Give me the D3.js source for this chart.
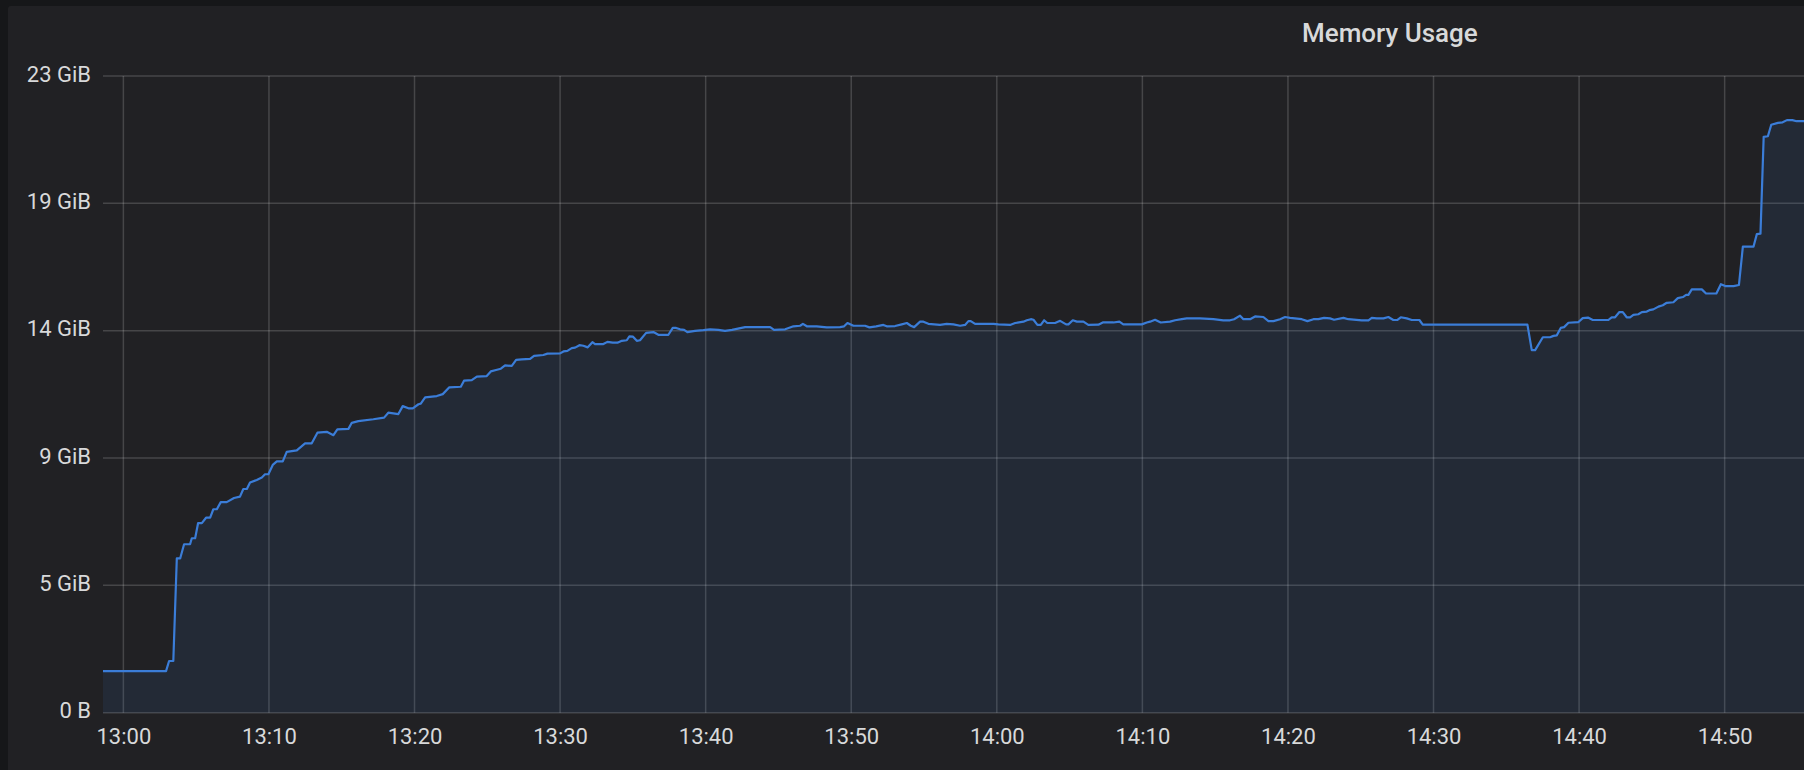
<!DOCTYPE html>
<html>
<head>
<meta charset="utf-8">
<script src="https://cdn.jsdelivr.net/npm/d3@7"></script>
<style>
  html, body { margin: 0; padding: 0; background: #161719; }
  svg { display: block; }
</style>
</head>
<body>
<script>
const TITLE = 'Memory Usage'
const START = new Date(2020, 0, 1, 13, 0, 0)
const DOMAIN_MINUTES = [-1.4, 115.45]
const Y_TICKS_BYTES = [0, 5e9, 10e9, 15e9, 20e9, 25e9]

// minutes after 13:00
const minutes = [
  -1.42, 2.93, 3.14, 3.43, 3.67, 3.90, 4.17, 4.58, 4.70, 4.93,
  5.13, 5.39, 5.68, 5.96, 6.18, 6.42, 6.69, 7.10, 7.60, 8.01,
  8.24, 8.48, 8.70, 9.16, 9.51, 9.73, 9.96, 10.26, 10.54, 10.95,
  11.22, 11.91, 12.48, 12.94, 13.33, 13.97, 14.43, 14.70, 15.46, 15.69,
  16.14, 17.17, 17.91, 18.20, 18.89, 19.19, 19.58, 19.88, 20.27, 20.43,
  20.73, 21.53, 21.94, 22.39, 23.18, 23.40, 23.93, 24.28, 24.96, 25.24,
  25.60, 25.93, 26.22, 26.68, 26.98, 27.37, 27.94, 28.21, 28.85, 29.13,
  30.00, 30.23, 30.50, 30.80, 31.03, 31.33, 31.60, 31.90, 32.22, 32.40,
  32.97, 33.25, 33.62, 33.94, 34.24, 34.58, 34.76, 35.01, 35.27, 35.49,
  35.91, 36.41, 36.75, 37.44, 37.74, 37.97, 38.24, 38.52, 38.74, 39.27,
  39.84, 40.30, 40.87, 41.33, 41.81, 42.71, 44.43, 44.70, 45.46, 46.03,
  46.49, 46.68, 46.95, 47.63, 48.32, 49.23, 49.51, 49.74, 50.15, 50.95,
  51.25, 51.71, 52.21, 52.44, 53.01, 53.47, 53.82, 54.09, 54.32, 54.73,
  54.96, 55.30, 56.10, 56.56, 57.02, 57.48, 57.82, 58.05, 58.21, 58.51,
  59.77, 60.11, 60.91, 61.26, 61.83, 62.06, 62.34, 62.52, 62.79, 63.02,
  63.25, 63.47, 64.00, 64.35, 64.76, 64.92, 65.22, 65.50, 65.95, 66.29,
  66.98, 67.28, 68.01, 68.42, 68.69, 69.96, 70.30, 70.53, 70.87, 71.26,
  71.90, 72.25, 72.71, 73.05, 73.96, 74.88, 75.56, 76.02, 76.30, 76.71,
  76.94, 77.40, 77.74, 78.31, 78.66, 79.00, 79.46, 79.80, 80.15, 80.95,
  81.34, 81.75, 82.09, 82.48, 82.89, 83.17, 83.81, 84.15, 85.07, 85.53,
  85.76, 86.10, 86.56, 86.90, 87.24, 87.50, 87.75, 88.16, 88.51, 89.03,
  89.26, 96.45, 96.75, 96.98, 97.51, 98.01, 98.24, 98.47, 98.74, 98.97,
  99.27, 99.94, 100.25, 100.61, 100.94, 102.01, 102.24, 102.47, 102.77, 103.00,
  103.27, 103.50, 103.73, 104.07, 104.31, 104.65, 104.83, 105.10, 105.45, 105.75,
  106.02, 106.48, 106.78, 107.13, 107.35, 107.51, 107.74, 108.43, 108.72, 109.43,
  109.74, 110.04, 110.61, 110.98, 111.25, 111.98, 112.21, 112.46, 112.68, 112.97,
  113.20, 113.66, 113.98, 114.28, 114.65, 114.94, 115.58,
]

// memory used, GiB
const gib = [
  1.52, 1.52, 1.89, 1.89, 5.64, 5.64, 6.16, 6.16, 6.38, 6.38,
  6.93, 6.93, 7.13, 7.13, 7.44, 7.44, 7.70, 7.70, 7.85, 7.90,
  8.18, 8.18, 8.42, 8.51, 8.60, 8.72, 8.72, 9.06, 9.19, 9.19,
  9.54, 9.59, 9.85, 9.85, 10.24, 10.27, 10.15, 10.36, 10.38, 10.60,
  10.66, 10.73, 10.79, 10.97, 10.92, 11.21, 11.13, 11.13, 11.28, 11.30,
  11.53, 11.58, 11.65, 11.90, 11.92, 12.14, 12.16, 12.29, 12.31, 12.48,
  12.53, 12.58, 12.70, 12.68, 12.90, 12.92, 12.94, 13.05, 13.08, 13.13,
  13.14, 13.21, 13.23, 13.33, 13.35, 13.44, 13.42, 13.36, 13.55, 13.48,
  13.48, 13.56, 13.53, 13.53, 13.60, 13.62, 13.76, 13.75, 13.60, 13.62,
  13.89, 13.92, 13.82, 13.82, 14.07, 14.07, 14.02, 14.00, 13.92, 13.96,
  13.99, 14.02, 14.00, 13.96, 14.00, 14.10, 14.10, 14.00, 14.02, 14.13,
  14.15, 14.22, 14.13, 14.13, 14.09, 14.10, 14.13, 14.25, 14.15, 14.15,
  14.09, 14.13, 14.18, 14.13, 14.14, 14.20, 14.25, 14.15, 14.10, 14.30,
  14.30, 14.22, 14.18, 14.22, 14.20, 14.15, 14.18, 14.32, 14.32, 14.22,
  14.22, 14.20, 14.18, 14.25, 14.30, 14.35, 14.39, 14.37, 14.18, 14.18,
  14.35, 14.25, 14.25, 14.33, 14.20, 14.20, 14.35, 14.30, 14.30, 14.18,
  14.19, 14.27, 14.27, 14.30, 14.20, 14.20, 14.27, 14.30, 14.37, 14.27,
  14.30, 14.35, 14.39, 14.42, 14.42, 14.39, 14.35, 14.35, 14.39, 14.52,
  14.39, 14.39, 14.49, 14.47, 14.32, 14.32, 14.39, 14.47, 14.44, 14.39,
  14.32, 14.39, 14.39, 14.44, 14.42, 14.37, 14.44, 14.39, 14.35, 14.35,
  14.44, 14.42, 14.42, 14.47, 14.36, 14.36, 14.46, 14.42, 14.36, 14.36,
  14.19, 14.19, 13.26, 13.26, 13.73, 13.73, 13.78, 13.80, 14.07, 14.10,
  14.26, 14.28, 14.43, 14.45, 14.36, 14.36, 14.46, 14.46, 14.65, 14.65,
  14.46, 14.46, 14.55, 14.57, 14.65, 14.67, 14.72, 14.75, 14.85, 14.90,
  14.99, 15.01, 15.16, 15.20, 15.28, 15.28, 15.48, 15.48, 15.33, 15.33,
  15.67, 15.60, 15.60, 15.64, 17.04, 17.04, 17.50, 17.52, 21.06, 21.08,
  21.50, 21.57, 21.59, 21.67, 21.67, 21.63, 21.63,
]

const W = 1804
const H = 770
const margin = { left: 103, right: 0, top: 76, bottom: H - 712.7 }
const LINE_COLOR = '#3b7dd8'
const TEXT_COLOR = '#d8d9da'
const GRID_COLOR = 'rgba(255,255,255,0.17)'
const GIB = 1024 ** 3

const atMinute = m => new Date(START.getTime() + m * 60000)
const points = minutes.map((m, i) => ({ t: atMinute(m), v: gib[i] * GIB }))

const x = d3.scaleTime()
  .domain(DOMAIN_MINUTES.map(atMinute))
  .range([margin.left, W - margin.right])

const y = d3.scaleLinear()
  .domain([0, 25e9])
  .range([H - margin.bottom, margin.top])

const fmtBytes = b => b === 0 ? '0 B' : `${Math.round(b / GIB)} GiB`

const svg = d3.select('body').append('svg')
  .attr('width', W)
  .attr('height', H)
  .style('font-family', 'Roboto, "Noto Sans", sans-serif')

// Dashboard background + panel
svg.append('rect').attr('width', W).attr('height', H).attr('fill', '#161719')
svg.append('rect')
  .attr('x', 8).attr('y', 6)
  .attr('width', W + 10).attr('height', H + 10)
  .attr('rx', 3)
  .attr('fill', '#212124')

svg.append('text')
  .attr('x', 1302).attr('y', 42)
  .attr('fill', TEXT_COLOR)
  .attr('font-size', 26)
  .attr('font-weight', 500)
  .text(TITLE)

svg.append('defs').append('clipPath').attr('id', 'plot-clip')
  .append('rect')
  .attr('x', margin.left).attr('y', 0)
  .attr('width', W - margin.left - margin.right)
  .attr('height', H - margin.bottom + 1)

// Grid
const xTicks = x.ticks(d3.timeMinute.every(10))
const grid = svg.append('g').attr('class', 'grid')

grid.selectAll('line.h')
  .data(Y_TICKS_BYTES)
  .join('line')
  .attr('class', 'h')
  .attr('x1', margin.left).attr('x2', W - margin.right)
  .attr('y1', d => y(d)).attr('y2', d => y(d))
  .attr('stroke', GRID_COLOR)
  .attr('stroke-width', 1.5)

grid.selectAll('line.v')
  .data(xTicks)
  .join('line')
  .attr('class', 'v')
  .attr('x1', d => x(d)).attr('x2', d => x(d))
  .attr('y1', y(25e9)).attr('y2', y(0))
  .attr('stroke', GRID_COLOR)
  .attr('stroke-width', 1.5)

// Series
const area = d3.area()
  .x(d => x(d.t))
  .y0(y(0))
  .y1(d => y(d.v))

const line = d3.line()
  .x(d => x(d.t))
  .y(d => y(d.v))

const series = svg.append('g').attr('clip-path', 'url(#plot-clip)')

series.append('path')
  .datum(points)
  .attr('d', area)
  .attr('fill', LINE_COLOR)
  .attr('fill-opacity', 0.1)

series.append('path')
  .datum(points)
  .attr('d', line)
  .attr('fill', 'none')
  .attr('stroke', LINE_COLOR)
  .attr('stroke-width', 2.2)
  .attr('stroke-linejoin', 'round')

// Axes (labels only, Grafana style)
const yAxis = svg.append('g')
  .attr('transform', `translate(${margin.left - 12},0)`)
  .call(d3.axisLeft(y).tickValues(Y_TICKS_BYTES).tickFormat(fmtBytes).tickSize(0).tickPadding(0))

const xAxis = svg.append('g')
  .attr('transform', `translate(0,${H - margin.bottom})`)
  .call(d3.axisBottom(x).ticks(d3.timeMinute.every(10)).tickFormat(d3.timeFormat('%H:%M')).tickSize(0).tickPadding(0))

for (const ax of [xAxis, yAxis]) {
  ax.select('.domain').remove()
  ax.selectAll('text')
    .attr('fill', TEXT_COLOR)
    .attr('font-size', 22)
    .attr('font-family', 'Roboto, "Noto Sans", sans-serif')
}
yAxis.selectAll('text').attr('dy', null).attr('y', 5)
xAxis.selectAll('text').attr('dy', null).attr('y', 31)
</script>
</body>
</html>
